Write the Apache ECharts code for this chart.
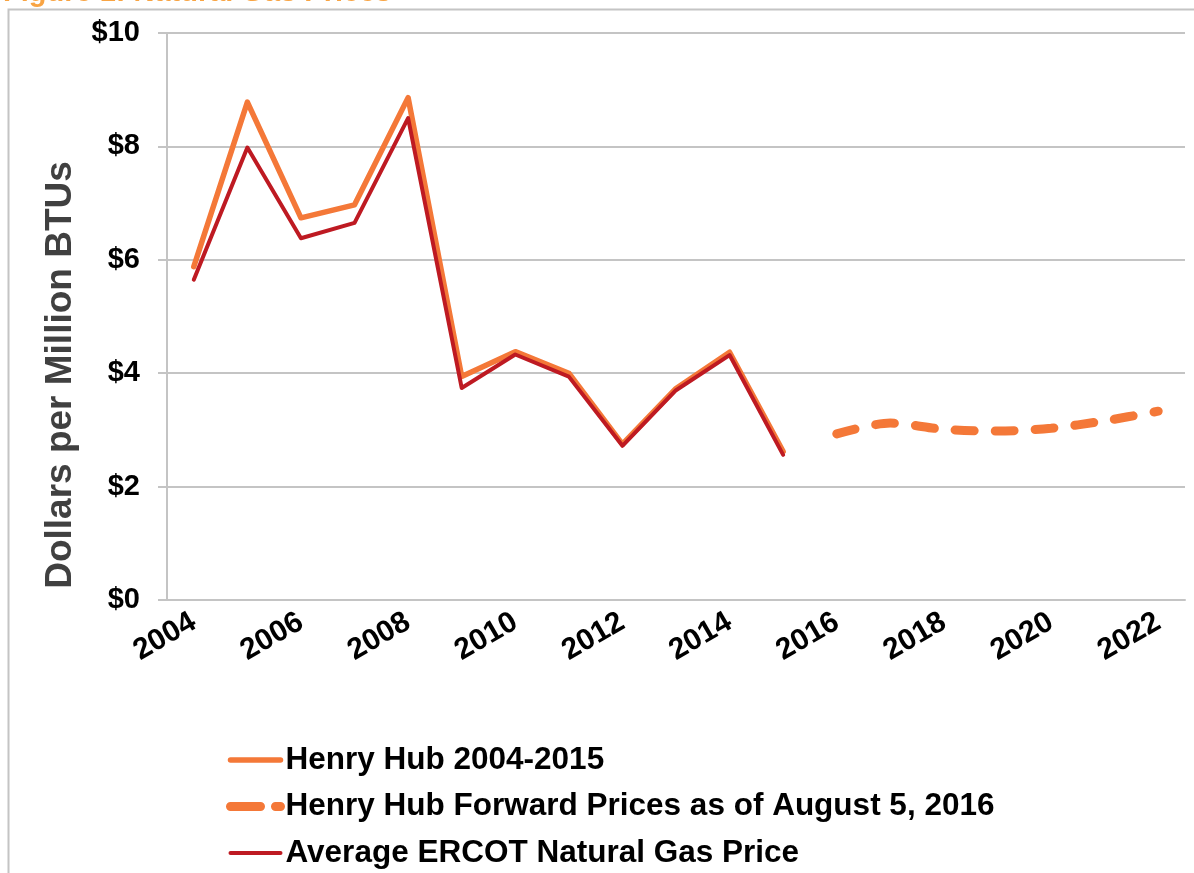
<!DOCTYPE html>
<html>
<head>
<meta charset="utf-8">
<script src="https://cdn.jsdelivr.net/npm/echarts@6/dist/echarts.min.js"></script>
<style>
  html, body { margin: 0; padding: 0; background: #fff; }
  #chart { width: 1194px; height: 873px; }
</style>
</head>
<body>
<div id="chart"></div>
<script>
// years on the x axis
var years = ["2004", "2005", "2006", "2007", "2008", "2009", "2010", "2011", "2012", "2013",
  "2014", "2015", "2016", "2017", "2018", "2019", "2020", "2021", "2022"];
// $ per MMBtu
var henryHub = [5.88, 8.78, 6.74, 6.97, 8.86, 3.94, 4.38, 4.00, 2.75, 3.73, 4.37, 2.62,
  null, null, null, null, null, null, null];
var henryForward = [null, null, null, null, null, null, null, null, null, null, null, null,
  2.93, 3.12, 3.01, 2.98, 3.03, 3.16, 3.33];
var ercot = [5.65, 7.98, 6.38, 6.65, 8.50, 3.74, 4.33, 3.94, 2.72, 3.70, 4.32, 2.56,
  null, null, null, null, null, null, null];
var yTicks = [0, 2, 4, 6, 8, 10];

var orange = "#F47838";
var red = "#BE1A22";
var grey = "#C4C4C4";
var font = "Liberation Sans, Arial, sans-serif";

var chart = echarts.init(document.getElementById("chart"));
chart.setOption({
  animation: false,
  textStyle: { fontFamily: font },
  grid: { left: 167, right: 9, top: 33, bottom: 273 },
  graphic: [
    {
      type: "polyline",
      shape: { points: [[8.5, 873], [8.5, 9.5], [1194, 9.5]] },
      style: { stroke: grey, lineWidth: 2, fill: null }
    },
    {
      type: "text",
      x: 3, y: -7,
      style: {
        text: "Figure 1: Natural Gas Prices",
        fill: "#F8A443",
        font: "bold 29px " + font,
        verticalAlign: "middle"
      }
    },
    {
      type: "text",
      x: 61, y: 375,
      rotation: Math.PI / 2,
      style: {
        text: "Dollars per Million BTUs",
        fill: "#404040",
        font: "bold 37px " + font,
        align: "center",
        verticalAlign: "middle"
      }
    }
  ],
  legend: {
    orient: "vertical",
    left: 226,
    top: 744,
    padding: 0,
    itemWidth: 50,
    itemHeight: 14,
    itemGap: 14.5,
    itemStyle: { opacity: 0 },
    lineStyle: { width: "inherit" },
    textStyle: { fontSize: 31.5, fontWeight: "bold", color: "#000", lineHeight: 31, fontFamily: font },
    data: [
      { name: "Henry Hub 2004-2015" },
      { name: "Henry Hub Forward Prices as of August 5, 2016", lineStyle: { type: [30, 15] } },
      { name: "Average ERCOT Natural Gas Price" }
    ]
  },
  xAxis: {
    type: "category",
    data: years,
    boundaryGap: true,
    axisLine: { lineStyle: { color: grey, width: 2 } },
    axisTick: { interval: 0, length: 9, lineStyle: { color: grey, width: 2 } },
    axisLabel: {
      interval: 1,
      rotate: 30,
      margin: 20,
      color: "#000",
      fontSize: 30,
      fontWeight: "bold",
      fontFamily: font
    },
    splitLine: { show: false }
  },
  yAxis: {
    type: "value",
    min: yTicks[0],
    max: yTicks[yTicks.length - 1],
    interval: 2,
    axisLine: { show: true, lineStyle: { color: grey, width: 2 } },
    axisTick: { show: true, length: 9, lineStyle: { color: grey, width: 2 } },
    axisLabel: {
      margin: 27,
      color: "#000",
      fontSize: 29,
      fontWeight: "bold",
      fontFamily: font,
      formatter: function (v) { return "$" + v; }
    },
    splitLine: { lineStyle: { color: grey, width: 2 } }
  },
  series: [
    {
      name: "Henry Hub 2004-2015",
      type: "line",
      data: henryHub,
      symbol: "none",
      lineStyle: { color: orange, width: 5.5, join: "round", cap: "round" },
      itemStyle: { color: orange },
      z: 2
    },
    {
      name: "Henry Hub Forward Prices as of August 5, 2016",
      type: "line",
      data: henryForward,
      symbol: "none",
      smooth: 0.3,
      lineStyle: { color: orange, width: 9, type: [19, 21], cap: "round" },
      itemStyle: { color: orange },
      z: 2
    },
    {
      name: "Average ERCOT Natural Gas Price",
      type: "line",
      data: ercot,
      symbol: "none",
      lineStyle: { color: red, width: 4, join: "round", cap: "round" },
      itemStyle: { color: red },
      z: 3
    }
  ]
});
</script>
</body>
</html>
